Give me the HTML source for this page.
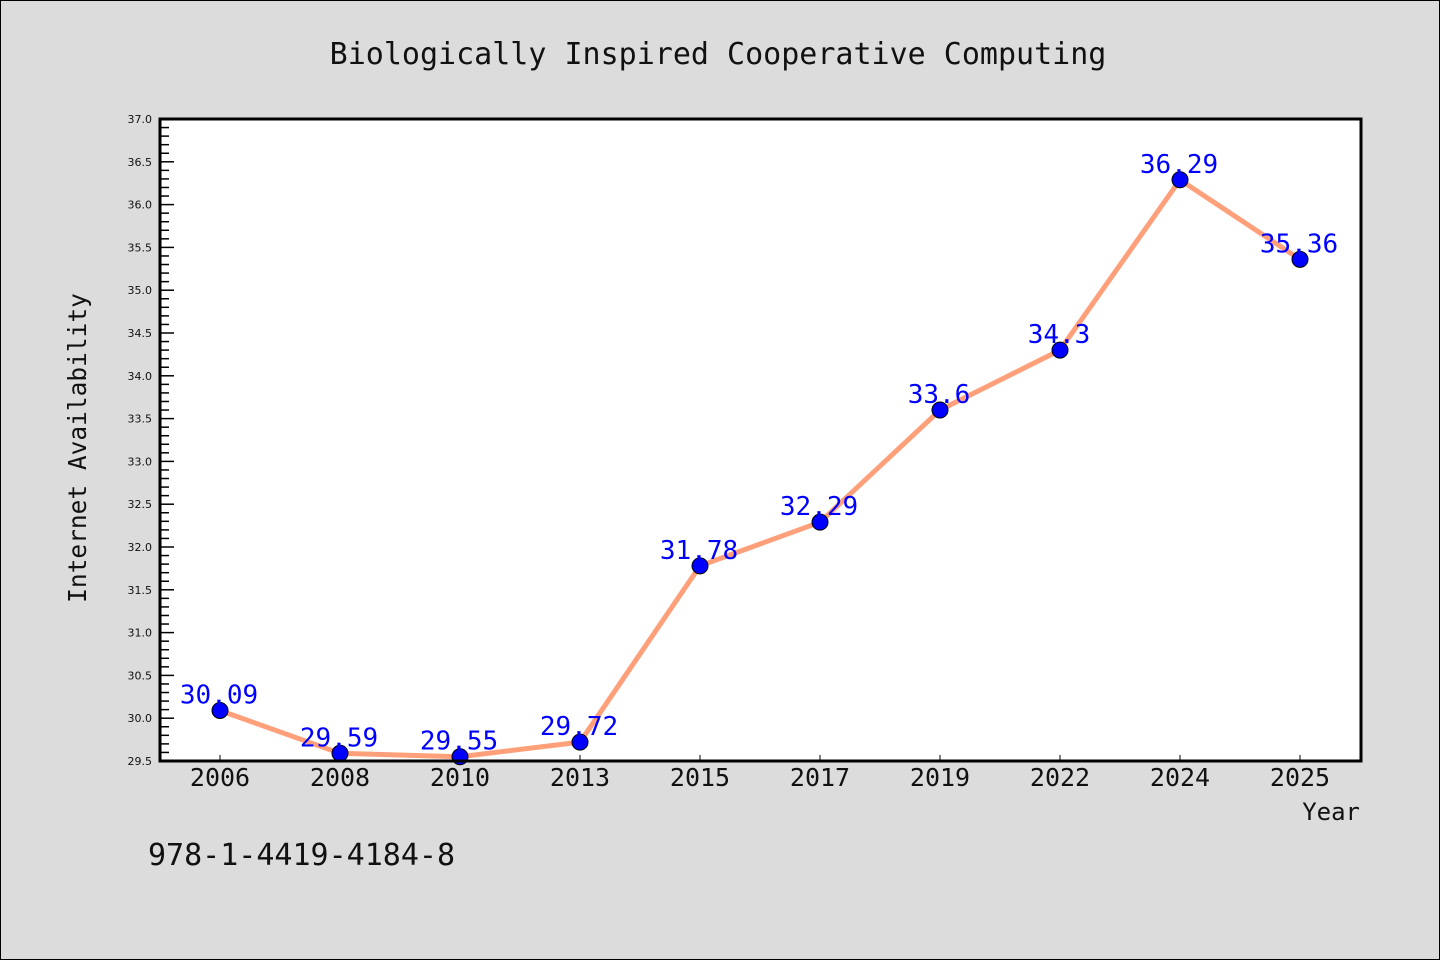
<!DOCTYPE html>
<html><head><meta charset="utf-8"><style>
body{margin:0;background:#dcdcdc;}
svg{display:block;font-family:"WenQuanYi Zen Hei Mono","DejaVu Sans Mono","Liberation Mono",monospace;}
</style></head><body>
<svg width="1440" height="960" id="c">
<rect x="0.5" y="0.5" width="1439" height="959" fill="#dcdcdc" stroke="#000"/>
<text x="718" y="64" font-size="30" text-anchor="middle" fill="#111">Biologically Inspired Cooperative Computing</text>
<rect x="160" y="119" width="1201" height="642" fill="#fff"/>
<g id="ticks"></g>
<g id="marks"></g>
<rect x="160" y="119" width="1201" height="642" fill="none" stroke="#000" stroke-width="3"/>
<text x="86" y="448" font-size="24.5" text-anchor="middle" fill="#111" transform="rotate(-90 86 448)">Internet Availability</text>
<text x="1360" y="820" font-size="24" text-anchor="end" fill="#111">Year</text>
<text x="148" y="865" font-size="30" fill="#111">978-1-4419-4184-8</text>
</svg>
<script>
const categories=["2006","2008","2010","2013","2015","2017","2019","2022","2024","2025"];
const values=[30.09,29.59,29.55,29.72,31.78,32.29,33.6,34.3,36.29,35.36];
const labels=["30.09","29.59","29.55","29.72","31.78","32.29","33.6","34.3","36.29","35.36"];
const yTicks=["29.5","30.0","30.5","31.0","31.5","32.0","32.5","33.0","33.5","34.0","34.5","35.0","35.5","36.0","36.5","37.0"];
const NS="http://www.w3.org/2000/svg";
const L=160,R=1361,T=119,B=761,ymin=29.5,ymax=37;
const xs=i=>L+60+i*(R-L-1)/categories.length;
const ys=v=>B-(v-ymin)/(ymax-ymin)*(B-T);
function mk(t,a,p){const e=document.createElementNS(NS,t);for(const k in a)e.setAttribute(k,a[k]);p.appendChild(e);return e;}
const tg=document.getElementById('ticks'),mg=document.getElementById('marks');
for(let k=0;k<=(ymax-ymin)*10;k++){const v=ymin+k/10,y=ys(v),maj=k%5===0;
 const ln=mk('line',{x1:L,x2:L+(maj?14:9),y1:y,y2:y,stroke:'#000','stroke-width':1.5},tg);
 
 }
yTicks.forEach(s=>{const y=ys(parseFloat(s));const t=mk('text',{x:152,y:y+4,'font-size':11,'text-anchor':'end',fill:'#111','font-family':'"DejaVu Sans",sans-serif'},tg);t.textContent=s;
 
 });
categories.forEach((c,i)=>{const x=xs(i);const ln=mk('line',{x1:x,x2:x,y1:B-6,y2:B,stroke:'#000','stroke-width':1},tg);
 
 
 const t=mk('text',{x:x,y:786,'font-size':25,'text-anchor':'middle',fill:'#111'},tg);t.textContent=c;
 
 });
const pl=mk('polyline',{points:values.map((v,i)=>xs(i)+','+ys(v)).join(' '),fill:'none',stroke:'#ffa07a','stroke-width':5,'stroke-linejoin':'round'},mg);


values.forEach((v,i)=>{const c=mk('circle',{cx:xs(i),cy:ys(v),r:8,fill:'#0000ff',stroke:'#000','stroke-width':1},mg);
 
 
 const t=mk('text',{x:xs(i)-1,y:ys(v)-7,'font-size':26,'text-anchor':'middle',fill:'#0000ff'},mg);t.textContent=labels[i];
 
 });
</script>
</body></html>
